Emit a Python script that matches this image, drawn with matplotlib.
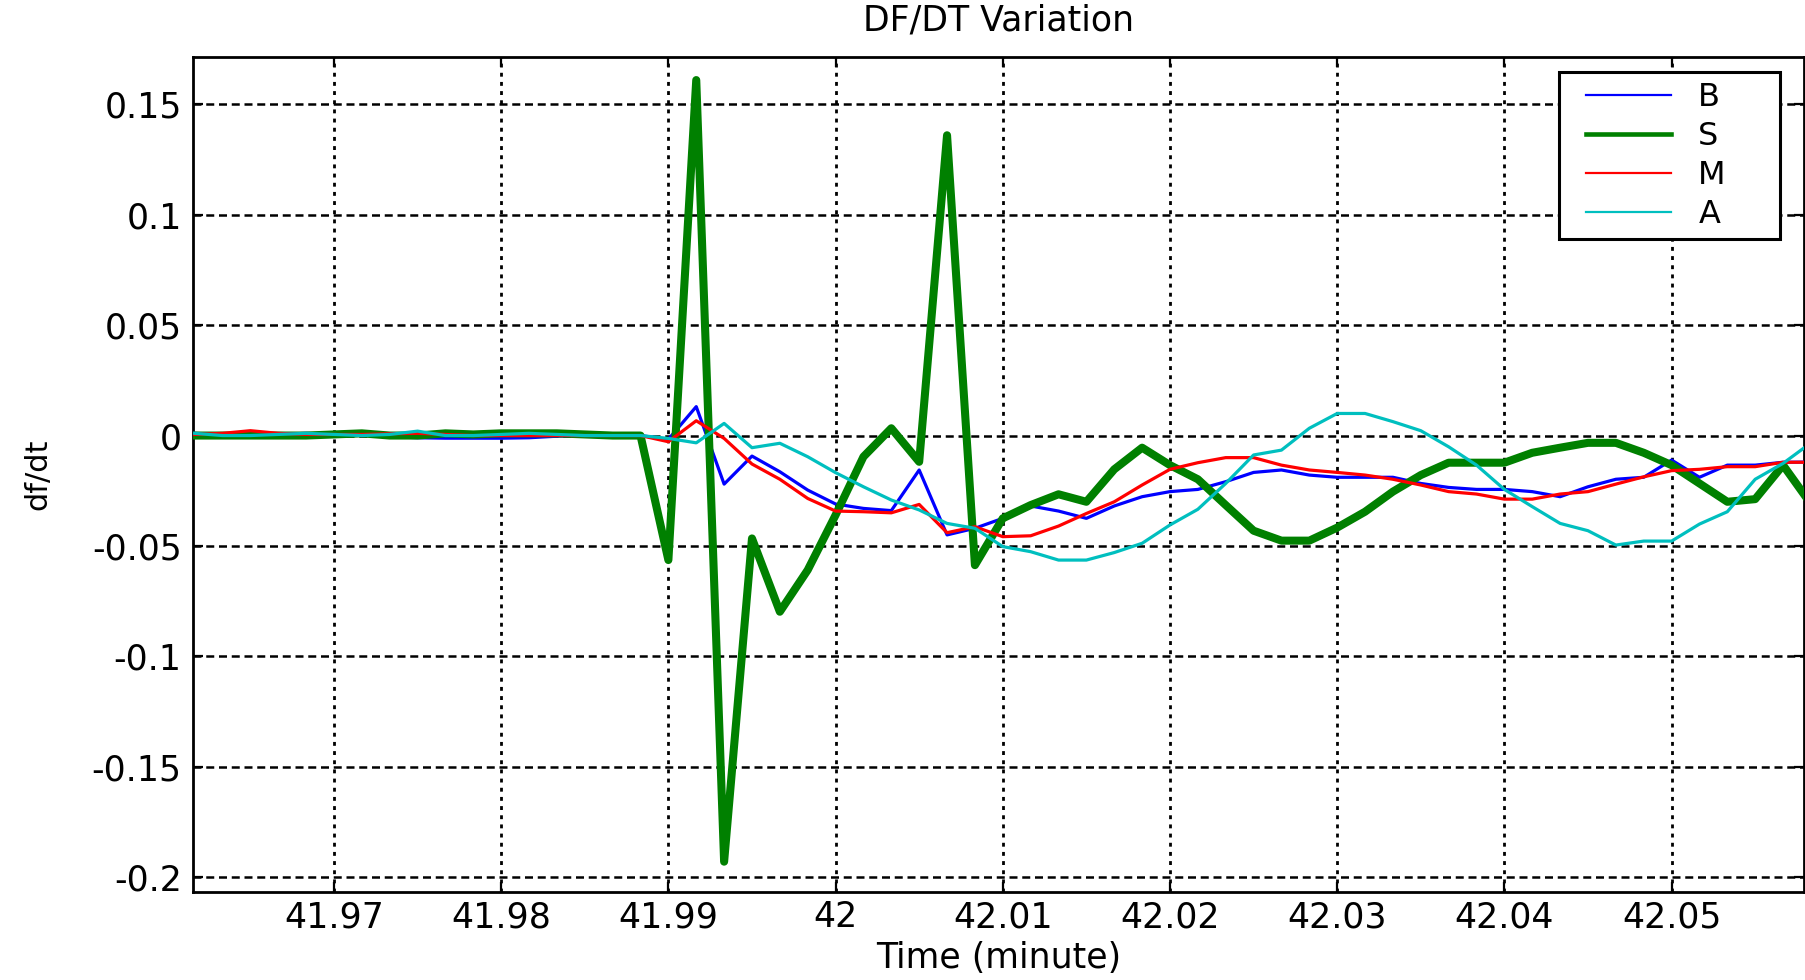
import numpy as np
import matplotlib
matplotlib.use('Agg')
import matplotlib.pyplot as plt
from matplotlib.legend_handler import HandlerLine2D

# Time axis: samples every 0.1 s (1/600 minute) around the event at 41.99 min.
T_EVENT = 41.99
T_STEP = 1.0 / 600.0
first_k, last_k = -17, 41
time = T_EVENT + np.arange(first_k, last_k + 1) * T_STEP

# df/dt for each bus.
dfdt_b = [0.001, 0.0005, 0.0003, 0.0005, 0.001, 0.0003, 0.0003, -0.0005, -0.001, -0.0012,
          -0.0012, -0.0012, -0.001, -0.0003, 0.0, 0.0, 0.0,
          -0.0017, 0.0131, -0.022, -0.0093, -0.0164, -0.0247, -0.031, -0.033, -0.034,
          -0.0156, -0.045, -0.042, -0.0375,
          -0.0319, -0.0342, -0.0375, -0.0319, -0.0277, -0.0254, -0.0244, -0.0209, -0.0167,
          -0.0156, -0.0179, -0.0189, -0.0189,
          -0.0189, -0.0217, -0.0235, -0.0244, -0.0244, -0.0254, -0.0277, -0.0232, -0.0198,
          -0.0189, -0.0111, -0.0189, -0.0134, -0.0134, -0.0121, -0.012]
dfdt_s = [0.0, 0.0, 0.0, 0.0, 0.0, 0.0005, 0.001, 0.0, 0.0, 0.001,
          0.0005, 0.001, 0.001, 0.001, 0.0005, 0.0, 0.0,
          -0.0564, 0.161, -0.193, -0.0466, -0.0798, -0.0609, -0.036, -0.0096, 0.0033,
          -0.0119, 0.136, -0.0587, -0.0375,
          -0.0315, -0.0266, -0.030, -0.0153, -0.0055, -0.0134, -0.0198, -0.0315, -0.0431,
          -0.0476, -0.0476, -0.0417, -0.0345,
          -0.0254, -0.0179, -0.0123, -0.0123, -0.0123, -0.0078, -0.0055, -0.0033, -0.0033,
          -0.0078, -0.0134, -0.0217, -0.030, -0.0288, -0.0134, -0.031]
dfdt_m = [0.0005, 0.001, 0.0022, 0.001, 0.0005, 0.0005, 0.0005, 0.0008, 0.001, 0.0005,
          0.0, 0.0, 0.0, 0.0, 0.0, 0.0, 0.0,
          -0.0028, 0.0067, -0.0013, -0.0129, -0.0198, -0.0285, -0.0342, -0.0345, -0.035,
          -0.0312, -0.044, -0.0413, -0.0458,
          -0.0454, -0.041, -0.0353, -0.030, -0.0224, -0.0153, -0.0123, -0.01, -0.01,
          -0.0134, -0.0156, -0.0167, -0.0179,
          -0.0198, -0.0224, -0.0254, -0.0265, -0.0288, -0.0288, -0.0265, -0.0254, -0.022,
          -0.0187, -0.0159, -0.0153, -0.0141, -0.0141, -0.0121, -0.0121]
dfdt_a = [0.001, 0.0, 0.0, 0.0005, 0.001, 0.0005, 0.0, 0.0005, 0.002, 0.0,
          0.0, 0.0005, 0.001, 0.0005, 0.0, 0.0, 0.0,
          -0.0013, -0.0033, 0.0055, -0.0055, -0.0035, -0.0096, -0.0168, -0.0232, -0.0292,
          -0.0337, -0.0398, -0.042, -0.0503,
          -0.0526, -0.0564, -0.0564, -0.053, -0.0488, -0.0405, -0.0334, -0.0217, -0.0088,
          -0.0066, 0.0033, 0.01, 0.01,
          0.0063, 0.0022, -0.0051, -0.0134, -0.0244, -0.0322, -0.0398, -0.0431, -0.0496,
          -0.0478, -0.0478, -0.0401, -0.0345, -0.0198, -0.0126, -0.0033]

labels = ['B', 'S', 'M', 'A']
x_ticks = [41.97, 41.98, 41.99, 42.00, 42.01, 42.02, 42.03, 42.04, 42.05]
x_tick_labels = ['41.97', '41.98', '41.99', '42', '42.01', '42.02', '42.03', '42.04', '42.05']
y_ticks = [-0.2, -0.15, -0.1, -0.05, 0.0, 0.05, 0.1, 0.15]
y_tick_labels = ['-0.2', '-0.15', '-0.1', '-0.05', '0', '0.05', '0.1', '0.15']

FS = 25


def dfdt_plot():
    """ MATLAB-looking df/dt plot of the four buses. """

    fig = plt.figure(figsize=(18.05, 9.8), dpi=100)
    ax = fig.add_axes([0.1068, 0.0901, 0.8927, 0.8514])

    # The four series, the S bus drawn heavy
    styles = [('#0000ff', 2.3), ('#008000', 5.8), ('#ff0000', 2.3), ('#00bfbf', 2.3)]
    series = [dfdt_b, dfdt_s, dfdt_m, dfdt_a]
    for values, label, (colour, lw) in zip(series, labels, styles):
        ax.plot(time, values, color=colour, lw=lw, label=label, zorder=3)

    ax.set_xlim(41.961555, 42.057925)
    ax.set_ylim(-0.2066, 0.1713)
    ax.set_xticks(x_ticks)
    ax.set_xticklabels(x_tick_labels)
    ax.set_yticks(y_ticks)
    ax.set_yticklabels(y_tick_labels)

    # Dotted vertical grid, dashed horizontal grid
    ax.xaxis.grid(True, color='black', lw=2.0, linestyle=(0, (1.4, 1.9)), zorder=1)
    ax.yaxis.grid(True, color='black', lw=1.8, linestyle=(0, (3.2, 1.9)), zorder=1)
    ax.set_axisbelow(True)

    ax.tick_params(direction='in', top=True, right=True, length=7, width=1.6,
                   labelsize=FS, colors='black')
    ax.tick_params(axis='x', pad=6)
    ax.tick_params(axis='y', pad=8)
    for spine in ax.spines.values():
        spine.set_linewidth(2.0)
        spine.set_color('black')

    ax.set_title('DF/DT Variation', fontsize=FS, pad=19)
    ax.set_xlabel('Time (minute)', fontsize=FS)
    ax.xaxis.set_label_coords(0.5, -0.059)
    ax.xaxis.label.set_va('top')
    ax.set_ylabel('df/dt', fontsize=22)
    ax.yaxis.set_label_coords(-0.087, 0.5)

    # Legend box in the top right corner, fixed width with entries to the left
    leg = ax.legend(loc='upper left', bbox_to_anchor=(0.8481, 0.982, 0.1369, 0.0),
                    mode='expand', borderaxespad=0,
                    fontsize=23, fancybox=False, framealpha=1, edgecolor='black',
                    handlelength=3.2, handletextpad=0.85, borderpad=0.3, labelspacing=0.25,
                    handler_map={plt.Line2D: HandlerLine2D(xpad=0.55)})
    leg.get_frame().set_linewidth(2.2)
    for line, lw in zip(leg.get_lines(), [1.6, 3.3, 1.6, 1.6]):
        line.set_linewidth(lw)

    fig.savefig('out.png', dpi=100)


if __name__ == '__main__':
    dfdt_plot()
